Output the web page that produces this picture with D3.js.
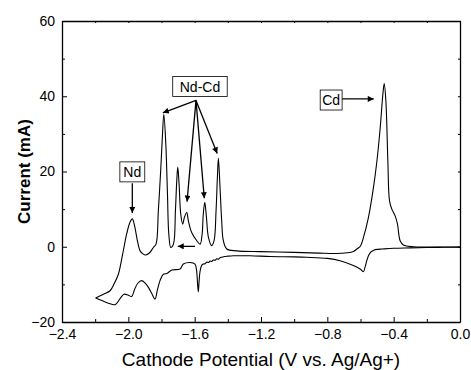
<!DOCTYPE html>
<html>
<head>
<meta charset="utf-8">
<script src="https://d3js.org/d3.v7.min.js"></script>
<style>
  body { margin: 0; background: #fff; }
  text { font-family: "Liberation Sans", Arial, sans-serif; fill: #000; }
</style>
</head>
<body>
<div id="chart"></div>
<script>
// cathodic sweep: 0.0 V -> -2.2 V (lower branch)
const cathV = [0.0, -0.1, -0.2, -0.3, -0.4, -0.47, -0.5, -0.52, -0.535, -0.55, -0.562, -0.572, -0.582, -0.6, -0.643, -0.723, -0.8, -0.924, -1.0, -1.145, -1.266, -1.367, -1.4, -1.42, -1.437, -1.447, -1.457, -1.467, -1.477, -1.487, -1.497, -1.507, -1.517, -1.527, -1.537, -1.548, -1.557, -1.567, -1.573, -1.578, -1.583, -1.588, -1.598, -1.628, -1.668, -1.688, -1.738, -1.768, -1.789, -1.809, -1.825, -1.839, -1.86, -1.879, -1.9, -1.919, -1.943, -1.962, -1.98, -2.0, -2.026, -2.05, -2.08, -2.12, -2.16, -2.197];
const cathI = [-0.1, -0.15, -0.2, -0.3, -0.4, -0.6, -0.7, -0.9, -1.3, -2.2, -3.7, -5.3, -6.6, -6.0, -5.0, -3.7, -3.1, -2.8, -2.7, -2.6, -2.4, -2.4, -2.5, -2.6, -2.8, -2.9, -3.3, -3.2, -3.6, -3.5, -3.9, -3.8, -4.2, -4.1, -4.5, -4.6, -4.9, -6.4, -9.0, -12.0, -9.5, -6.5, -4.6, -4.2, -4.6, -5.9, -6.2, -7.1, -7.3, -9.0, -11.5, -13.9, -12.3, -10.8, -9.6, -9.0, -9.7, -11.3, -13.2, -12.9, -12.6, -13.8, -15.4, -15.0, -14.3, -13.6];

// anodic sweep: -2.2 V -> 0.0 V (upper branch)
const anodV = [-2.197, -2.15, -2.11, -2.085, -2.06, -2.045, -2.03, -2.01, -1.99, -1.976, -1.962, -1.945, -1.929, -1.912, -1.895, -1.872, -1.849, -1.833, -1.819, -1.805, -1.795, -1.786, -1.774, -1.764, -1.756, -1.744, -1.728, -1.716, -1.708, -1.702, -1.694, -1.684, -1.672, -1.662, -1.648, -1.638, -1.618, -1.587, -1.567, -1.555, -1.548, -1.539, -1.529, -1.517, -1.497, -1.483, -1.471, -1.463, -1.457, -1.447, -1.437, -1.427, -1.406, -1.346, -1.2, -1.0, -0.85, -0.75, -0.68, -0.643, -0.622, -0.6, -0.582, -0.552, -0.522, -0.501, -0.481, -0.465, -0.457, -0.447, -0.435, -0.425, -0.411, -0.391, -0.377, -0.361, -0.341, -0.28, -0.2, -0.1, 0.0];
const anodI = [-13.6, -12.6, -11.7, -9.8, -7.3, -4.4, -1.0, 3.4, 6.5, 7.4, 5.5, 1.5, -1.1, -1.9, -2.2, -1.6, -0.2, 0.7, 9.6, 20.2, 29.0, 35.2, 27.3, 14.0, 3.4, -0.2, 0.7, 9.6, 17.5, 21.2, 16.7, 8.7, 6.0, 7.8, 9.1, 6.9, 3.8, 1.6, 0.7, 3.4, 8.7, 11.8, 7.8, 2.5, 0.3, 1.6, 9.6, 18.4, 23.5, 15.7, 6.9, 1.6, -0.6, -1.1, -1.3, -1.5, -1.7, -1.8, -1.6, -1.25, -0.6, 0.2, 2.5, 7.8, 15.7, 22.8, 31.7, 40.6, 43.4, 38.8, 22.8, 12.2, 10.0, 8.2, 6.0, 1.6, 0.45, 0.0, -0.05, -0.05, -0.05];

const xTicks = [-2.4, -2.0, -1.6, -1.2, -0.8, -0.4, 0.0];
const yTicks = [-20, 0, 20, 40, 60];

// annotations in data units: label, box centre, arrow tails/tips
const labels = [
  { text: "Nd", x: -1.976, y: 19.9, pad: 3.5, arrows: [[-1.976, 16.9, -1.976, 9.0]] },
  { text: "Nd-Cd", x: -1.568, y: 42.6, pad: 7, arrows: [
      [-1.592, 38.9, -1.792, 35.6],
      [-1.592, 38.9, -1.646, 12.0],
      [-1.592, 38.9, -1.542, 12.9],
      [-1.592, 38.9, -1.464, 24.8]] },
  { text: "Cd", x: -0.777, y: 39.0, pad: 2, arrows: [[-0.712, 39.3, -0.520, 39.3]] },
  { text: "", x: 0, y: 0, pad: 0, arrows: [[-1.598, 0.1, -1.702, 0.1]] }
];

const W = 471, H = 370;
const margin = { top: 21, right: 11, bottom: 48, left: 62 };

const x = d3.scaleLinear().domain([-2.4, 0]).range([margin.left, W - margin.right]);
const y = d3.scaleLinear().domain([-20, 60]).range([H - margin.bottom, margin.top]);

const svg = d3.select("#chart").append("svg")
    .attr("width", W)
    .attr("height", H);

const defs = svg.append("defs");
defs.append("marker")
    .attr("id", "head")
    .attr("viewBox", "0 0 10 10")
    .attr("refX", 10).attr("refY", 5)
    .attr("markerWidth", 7).attr("markerHeight", 6)
    .attr("markerUnits", "userSpaceOnUse")
    .attr("orient", "auto")
  .append("path")
    .attr("d", "M0,0L10,5L0,10Z")
    .attr("fill", "#000");

// axes: bottom / left with inward ticks, top / right with small inward ticks
const xMinor = [-2.2, -1.8, -1.4, -1.0, -0.6, -0.2];
const yMinor = [-10, 10, 30, 50];

svg.append("g")
    .attr("transform", "translate(0," + y(-20) + ")")
    .call(d3.axisBottom(x).tickValues(xTicks).tickFormat(d3.format(".1f")).tickSizeInner(-5).tickSizeOuter(0).tickPadding(7))
    .call(g => g.selectAll("text").attr("font-size", 14).attr("dy", "0.72em"));
svg.append("g")
    .attr("transform", "translate(0," + y(-20) + ")")
    .call(d3.axisBottom(x).tickValues(xMinor).tickFormat("").tickSizeInner(-3).tickSizeOuter(0))
    .call(g => g.select(".domain").remove());

svg.append("g")
    .attr("transform", "translate(" + x(-2.4) + ",0)")
    .call(d3.axisLeft(y).tickValues(yTicks).tickSizeInner(-5).tickSizeOuter(0).tickPadding(7))
    .call(g => g.selectAll("text").attr("font-size", 14));
svg.append("g")
    .attr("transform", "translate(" + x(-2.4) + ",0)")
    .call(d3.axisLeft(y).tickValues(yMinor).tickFormat("").tickSizeInner(-3).tickSizeOuter(0))
    .call(g => g.select(".domain").remove());

svg.append("g")
    .attr("transform", "translate(0," + y(60) + ")")
    .call(d3.axisTop(x).tickValues(xTicks.concat(xMinor)).tickFormat("").tickSizeInner(-2).tickSizeOuter(0));
svg.append("g")
    .attr("transform", "translate(" + x(0) + ",0)")
    .call(d3.axisRight(y).tickValues(yTicks.concat(yMinor)).tickFormat("").tickSizeInner(-2).tickSizeOuter(0));

svg.selectAll(".domain").attr("stroke-width", 1.3);
svg.selectAll(".tick line").attr("stroke-width", 1);

// curve
const line = d3.line()
    .x(d => x(d[0]))
    .y(d => y(d[1]))
    .curve(d3.curveCatmullRom.alpha(0.5));

const cath = cathV.map((v, i) => [v, cathI[i]]);
const anod = anodV.map((v, i) => [v, anodI[i]]);

svg.append("path")
    .datum(cath)
    .attr("fill", "none")
    .attr("stroke", "#000")
    .attr("stroke-width", 1.1)
    .attr("d", line);
svg.append("path")
    .datum(anod)
    .attr("fill", "none")
    .attr("stroke", "#000")
    .attr("stroke-width", 1.1)
    .attr("d", line);

// annotations
labels.forEach(l => {
  l.arrows.forEach(a => {
    svg.append("line")
        .attr("x1", x(a[0])).attr("y1", y(a[1]))
        .attr("x2", x(a[2])).attr("y2", y(a[3]))
        .attr("stroke", "#000")
        .attr("stroke-width", 1.3)
        .attr("marker-end", "url(#head)");
  });
  if (!l.text) return;
  const t = svg.append("text")
      .attr("x", x(l.x)).attr("y", y(l.y))
      .attr("text-anchor", "middle")
      .attr("dy", "0.36em")
      .attr("font-size", 14)
      .text(l.text);
  const bb = t.node().getBBox();
  svg.insert("rect", () => t.node())
      .attr("x", bb.x - l.pad).attr("y", y(l.y) - 10)
      .attr("width", bb.width + 2 * l.pad).attr("height", 20)
      .attr("fill", "#fff")
      .attr("stroke", "#000")
      .attr("stroke-width", 0.8);
});

// axis titles
svg.append("text")
    .attr("x", (x(-2.4) + x(0)) / 2)
    .attr("y", 366)
    .attr("text-anchor", "middle")
    .attr("font-size", 19)
    .text("Cathode Potential (V vs. Ag/Ag+)");

svg.append("text")
    .attr("transform", "translate(30," + y(20) + ") rotate(-90)")
    .attr("text-anchor", "middle")
    .attr("font-size", 17)
    .attr("font-weight", "bold")
    .text("Current (mA)");
</script>
</body>
</html>
